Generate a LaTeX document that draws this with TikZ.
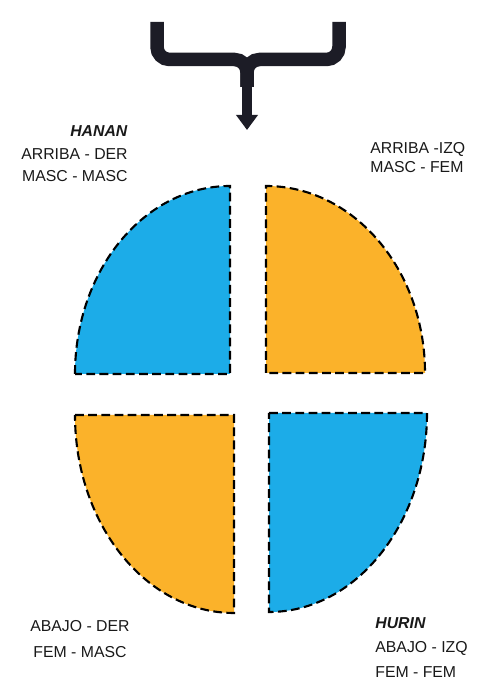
\documentclass[tikz,border=0pt]{standalone}
\usepackage{fontspec}
\setmainfont{Liberation Sans}
\usepackage{tikz}
\usetikzlibrary{arrows.meta}
\definecolor{QDblue}{RGB}{28,172,232}
\definecolor{QDorange}{RGB}{251,178,42}
\definecolor{QDink}{RGB}{28,28,38}
\tikzset{
  quad/.style={draw=black,line width=1.2pt,dash pattern=on 5pt off 2.5pt},
  qblue/.style={quad,fill=QDblue},
  qorange/.style={quad,fill=QDorange},
  bar/.style={draw=QDink,line width=0.27cm,rounded corners=0.25cm},
  stem/.style={draw=QDink,line width=0.2cm,-{Triangle[width=0.42cm,length=0.3cm]}},
  lbl/.style={inner sep=0pt,text=black!90,font=\fontsize{9}{12}\selectfont}
}
\begin{document}
\begin{tikzpicture}[x=0.02cm,y=0.02cm]
  \useasboundingbox (0,0) rectangle (481,692);
  % the forked arrow
  \coordinate (brL) at (157,670);
  \coordinate (brR) at (339,670);
  \coordinate (fork) at (247,632.5);
  \coordinate (neck) at (247,605);
  \coordinate (tip) at (247,562);
  \draw[bar] (brL) |- (fork) -- (neck);
  \draw[bar] (brR) |- (fork) -- (neck);
  \draw[stem] (neck) -- (tip);
  % four quarters
  \draw[qblue] (75,318) arc[start angle=180,end angle=90,x radius=155,y radius=188]
    -- (230,318) -- cycle;
  \draw[qorange] (266,319) -- (266,506) arc[start angle=90,end angle=0,x radius=159,y radius=187]
    -- cycle;
  \draw[qorange] (75,277) -- (234,277) -- (234,79)
    arc[start angle=270,end angle=180,x radius=159,y radius=198] -- cycle;
  \draw[qblue] (269,279) -- (427,279) arc[start angle=0,end angle=-90,x radius=158,y radius=199]
    -- cycle;
  % labels
  \node[lbl,anchor=north east,align=right] (hanan) at (128,567)
    {\textbf{\textit{HANAN}}\\[1.5pt]ARRIBA - DER\\MASC - MASC};
  \node[lbl,anchor=north west,align=left,font=\fontsize{9}{11}\selectfont] (arrizq) at (370,550)
    {ARRIBA -IZQ\\MASC - FEM};
  \node[lbl,anchor=north,align=center,font=\fontsize{9}{15}\selectfont] (abader) at (80,72)
    {ABAJO - DER\\FEM - MASC};
  \node[lbl,anchor=north west,align=left,font=\fontsize{9}{14}\selectfont] (hurin) at (375,75)
    {\textbf{\textit{HURIN}}\\ABAJO - IZQ\\FEM - FEM};
\end{tikzpicture}
\end{document}
